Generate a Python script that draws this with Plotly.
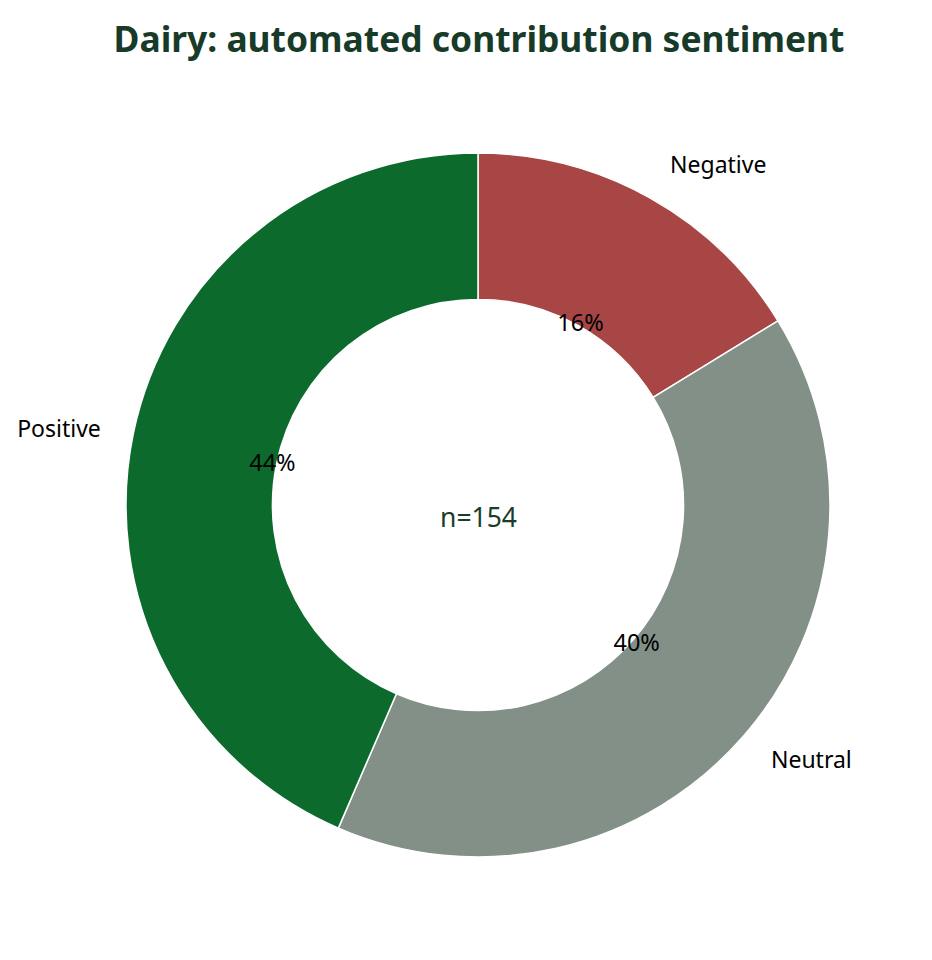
import plotly.graph_objects as go

# sentiment split of the dairy contributions
labels = ["Negative", "Neutral", "Positive"]
counts = [25, 62, 67]
colors = ["#a84646", "#829088", "#0c6b2c"]
n_total = sum(counts)

W, H = 932, 960
cx, cy = 470, 463  # pie centre in px, measured from bottom-left of the figure


def dom(r):
    # square domain of radius r (px) around the pie centre
    return dict(x=[(cx - r) / W, (cx + r) / W], y=[(cy - r) / H, (cy + r) / H])


fig = go.Figure()

# the ring itself
fig.add_trace(go.Pie(
    labels=labels, values=counts, sort=False, direction="clockwise", rotation=0,
    hole=0.584, domain=dom(352),
    marker=dict(colors=colors, line=dict(color="white", width=1.5)),
    textinfo="none", hoverinfo="label+value+percent",
    showlegend=False,
))

# category names outside the ring
fig.add_trace(go.Pie(
    labels=labels, values=counts, sort=False, direction="clockwise", rotation=0,
    domain=dom(377),
    marker=dict(colors=["rgba(0,0,0,0)"] * 3, line=dict(width=0)),
    textinfo="label", textposition="outside",
    outsidetextfont=dict(size=23, color="black"),
    hoverinfo="skip", showlegend=False,
))

# percentages near the inner edge (transparent ring so they sit at the same radius)
fig.add_trace(go.Pie(
    labels=labels, values=counts, sort=False, direction="clockwise", rotation=0,
    hole=0.35, domain=dom(311),
    marker=dict(colors=["rgba(0,0,0,0)"] * 3, line=dict(width=0)),
    texttemplate="%{percent:.0%}", textposition="inside",
    insidetextorientation="horizontal",
    insidetextfont=dict(size=23.5, color="black"),
    hoverinfo="skip", showlegend=False,
))

# sample size in the hole
fig.add_annotation(
    text=f"n={n_total}", xref="paper", yref="paper", x=cx / W, y=cy / H,
    yshift=-12, showarrow=False, font=dict(size=26.5, color="#1a3d2b"),
)

fig.update_layout(
    width=W, height=H,
    title=dict(text="<b>Dairy: automated contribution sentiment</b>",
               x=471 / W, xanchor="center", y=1 - 32 / H, yanchor="middle",
               font=dict(size=35.4, color="#173b28")),
    font=dict(family="Noto Sans"),
    margin=dict(l=0, r=0, t=0, b=0),
    paper_bgcolor="white",
)

fig.write_html("out.html")
